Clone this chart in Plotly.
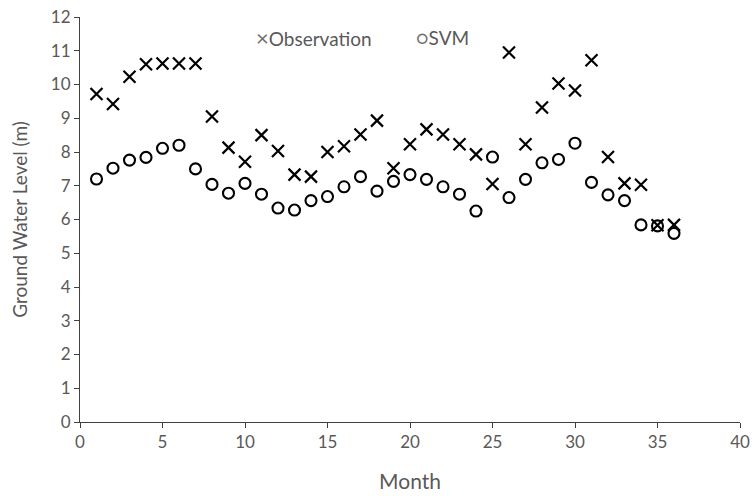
import plotly.graph_objects as go

months = list(range(1, 37))
observation = [9.72, 9.42, 10.23, 10.6, 10.62, 10.62, 10.62, 9.05, 8.13, 7.71, 8.5, 8.03,
               7.33, 7.27, 8.0, 8.17, 8.52, 8.93, 7.52, 8.23, 8.67, 8.52, 8.23, 7.93,
               7.05, 10.95, 8.23, 9.32, 10.03, 9.82, 10.72, 7.85, 7.07, 7.03, 5.83, 5.84]
svm = [7.2, 7.52, 7.76, 7.84, 8.11, 8.2, 7.5, 7.04, 6.78, 7.07, 6.75, 6.34,
       6.28, 6.56, 6.68, 6.97, 7.27, 6.84, 7.13, 7.33, 7.19, 6.97, 6.75, 6.25,
       7.85, 6.65, 7.19, 7.68, 7.78, 8.26, 7.1, 6.73, 6.56, 5.84, 5.81, 5.59]
series_names = ["Observation", "SVM"]

font = "Lato, 'Open Sans', sans-serif"
grey = "#595959"

fig = go.Figure()
fig.add_trace(go.Scatter(
    x=months, y=observation, mode="markers", name=series_names[0],
    marker=dict(symbol="x-thin-open", size=12, color="black",
                line=dict(color="black", width=2.2)),
))
fig.add_trace(go.Scatter(
    x=months, y=svm, mode="markers", name=series_names[1],
    marker=dict(symbol="circle-open", size=11, color="black",
                line=dict(color="black", width=2.1)),
))

axis_common = dict(
    showgrid=False, zeroline=False, showline=True, linecolor="#404040", linewidth=1,
    ticks="outside", ticklen=5, tickcolor="#404040", automargin=False,
    tickfont=dict(family=font, size=17, color=grey),
)
fig.update_layout(
    width=752, height=496,
    margin=dict(l=80, r=12, t=17, b=74),
    paper_bgcolor="white", plot_bgcolor="white",
    font=dict(family=font, color=grey),
    xaxis=dict(range=[0, 40], dtick=5, tick0=0,
               title=dict(text="Month", font=dict(family=font, size=21, color=grey), standoff=22),
               **axis_common),
    yaxis=dict(range=[0, 12], dtick=1, tick0=0,
               title=dict(text="Ground Water Level (m)", font=dict(family=font, size=19, color=grey), standoff=18),
               **axis_common),
    showlegend=False,
    annotations=[
        dict(xref="paper", yref="paper", x=(254 - 80) / 660, y=(422 - 38) / 405,
             xanchor="left", yanchor="middle", showarrow=False,
             text="<span style='color:#6f6f6f;font-size:22px'>×</span>" + series_names[0],
             font=dict(family=font, size=19, color=grey)),
        dict(xref="paper", yref="paper", x=(414 - 80) / 660, y=(422 - 38) / 405,
             xanchor="left", yanchor="middle", showarrow=False,
             text="<span style='color:#6f6f6f;font-size:19px'>○</span>" + series_names[1],
             font=dict(family=font, size=19, color=grey)),
    ],
)
fig.write_html("out.html", config={"displayModeBar": False},
               post_script="document.body.style.margin='0';document.body.style.overflow='hidden';")
